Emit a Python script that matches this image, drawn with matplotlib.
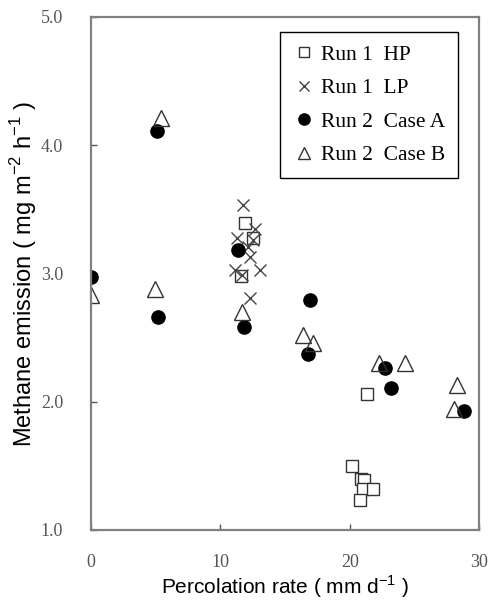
import matplotlib.pyplot as plt

# Run 1 HP (open squares)
hp_x = [11.9, 12.5, 11.6, 21.3, 20.2, 20.9, 21.1, 21.0, 21.8, 20.8]
hp_y = [3.39, 3.28, 2.98, 2.06, 1.50, 1.40, 1.39, 1.32, 1.32, 1.23]

# Run 1 LP (x)
lp_x = [11.75, 12.7, 11.3, 12.55, 12.15, 12.3, 11.1, 13.1, 11.7, 12.3]
lp_y = [3.53, 3.35, 3.28, 3.26, 3.21, 3.13, 3.03, 3.03, 2.99, 2.81]

# Run 2 Case A (filled circles)
ca_x = [0.0, 5.1, 5.2, 11.4, 11.8, 16.9, 16.8, 22.7, 23.2, 28.8]
ca_y = [2.97, 4.11, 2.66, 3.18, 2.58, 2.79, 2.37, 2.26, 2.11, 1.93]

# Run 2 Case B (open triangles)
cb_x = [0.0, 5.4, 4.95, 11.7, 16.4, 17.2, 22.3, 24.3, 28.3, 28.1]
cb_y = [2.83, 4.21, 2.88, 2.70, 2.52, 2.46, 2.30, 2.30, 2.13, 1.94]

plt.rcParams['font.family'] = ['Liberation Serif', 'DejaVu Serif']
plt.rcParams['mathtext.fontset'] = 'custom'
plt.rcParams['mathtext.rm'] = 'Liberation Sans'

fig = plt.figure(figsize=(4.9, 6.05), dpi=100)
ax = fig.add_axes([0.1857, 0.124, 0.792, 0.848])

ax.plot(hp_x, hp_y, 's', ms=8, mfc='white', mec='#333333', mew=1.0,
        linestyle='none', label='Run 1  HP')
ax.plot(lp_x, lp_y, 'x', ms=8, mec='#444444', mew=1.0,
        linestyle='none', label='Run 1  LP')
ax.plot(ca_x, ca_y, 'o', ms=9.5, mfc='black', mec='black',
        linestyle='none', label='Run 2  Case A')
ax.plot(cb_x, cb_y, '^', ms=11, mfc='none', mec='#333333', mew=1.0,
        linestyle='none', label='Run 2  Case B')

ax.set_xlim(0, 30)
ax.set_ylim(1.0, 5.0)
ax.set_xticks([0, 10, 20, 30])
ax.set_yticks([1.0, 2.0, 3.0, 4.0, 5.0])
ax.set_yticklabels(['1.0', '2.0', '3.0', '4.0', '5.0'])

for s in ax.spines.values():
    s.set_color('#808080')
    s.set_linewidth(1.6)
ax.tick_params(direction='in', length=4, width=1, color='#555555',
               labelsize=13, labelcolor='#555555')
ax.tick_params(axis='y', pad=20)
ax.tick_params(axis='x', pad=17)

ax.set_xlabel('Percolation rate ( mm d$^{\\mathregular{-1}}$ )', family='Liberation Sans',
              fontsize=15, labelpad=2)
ax.set_ylabel('Methane emission ( mg m$^{\\mathregular{-2}}$ h$^{\\mathregular{-1}}$ )',
              family='Liberation Sans', fontsize=17, labelpad=1)

leg = ax.legend(loc='upper left', bbox_to_anchor=(0.487, 0.971), borderaxespad=0,
                fontsize=15.5, labelspacing=0.62, handletextpad=0.3, handlelength=1.0,
                borderpad=0.6, fancybox=False, framealpha=1, edgecolor='black',
                markerscale=0.85)
leg.get_frame().set_linewidth(1.0)

fig.savefig('out.png', dpi=100)
